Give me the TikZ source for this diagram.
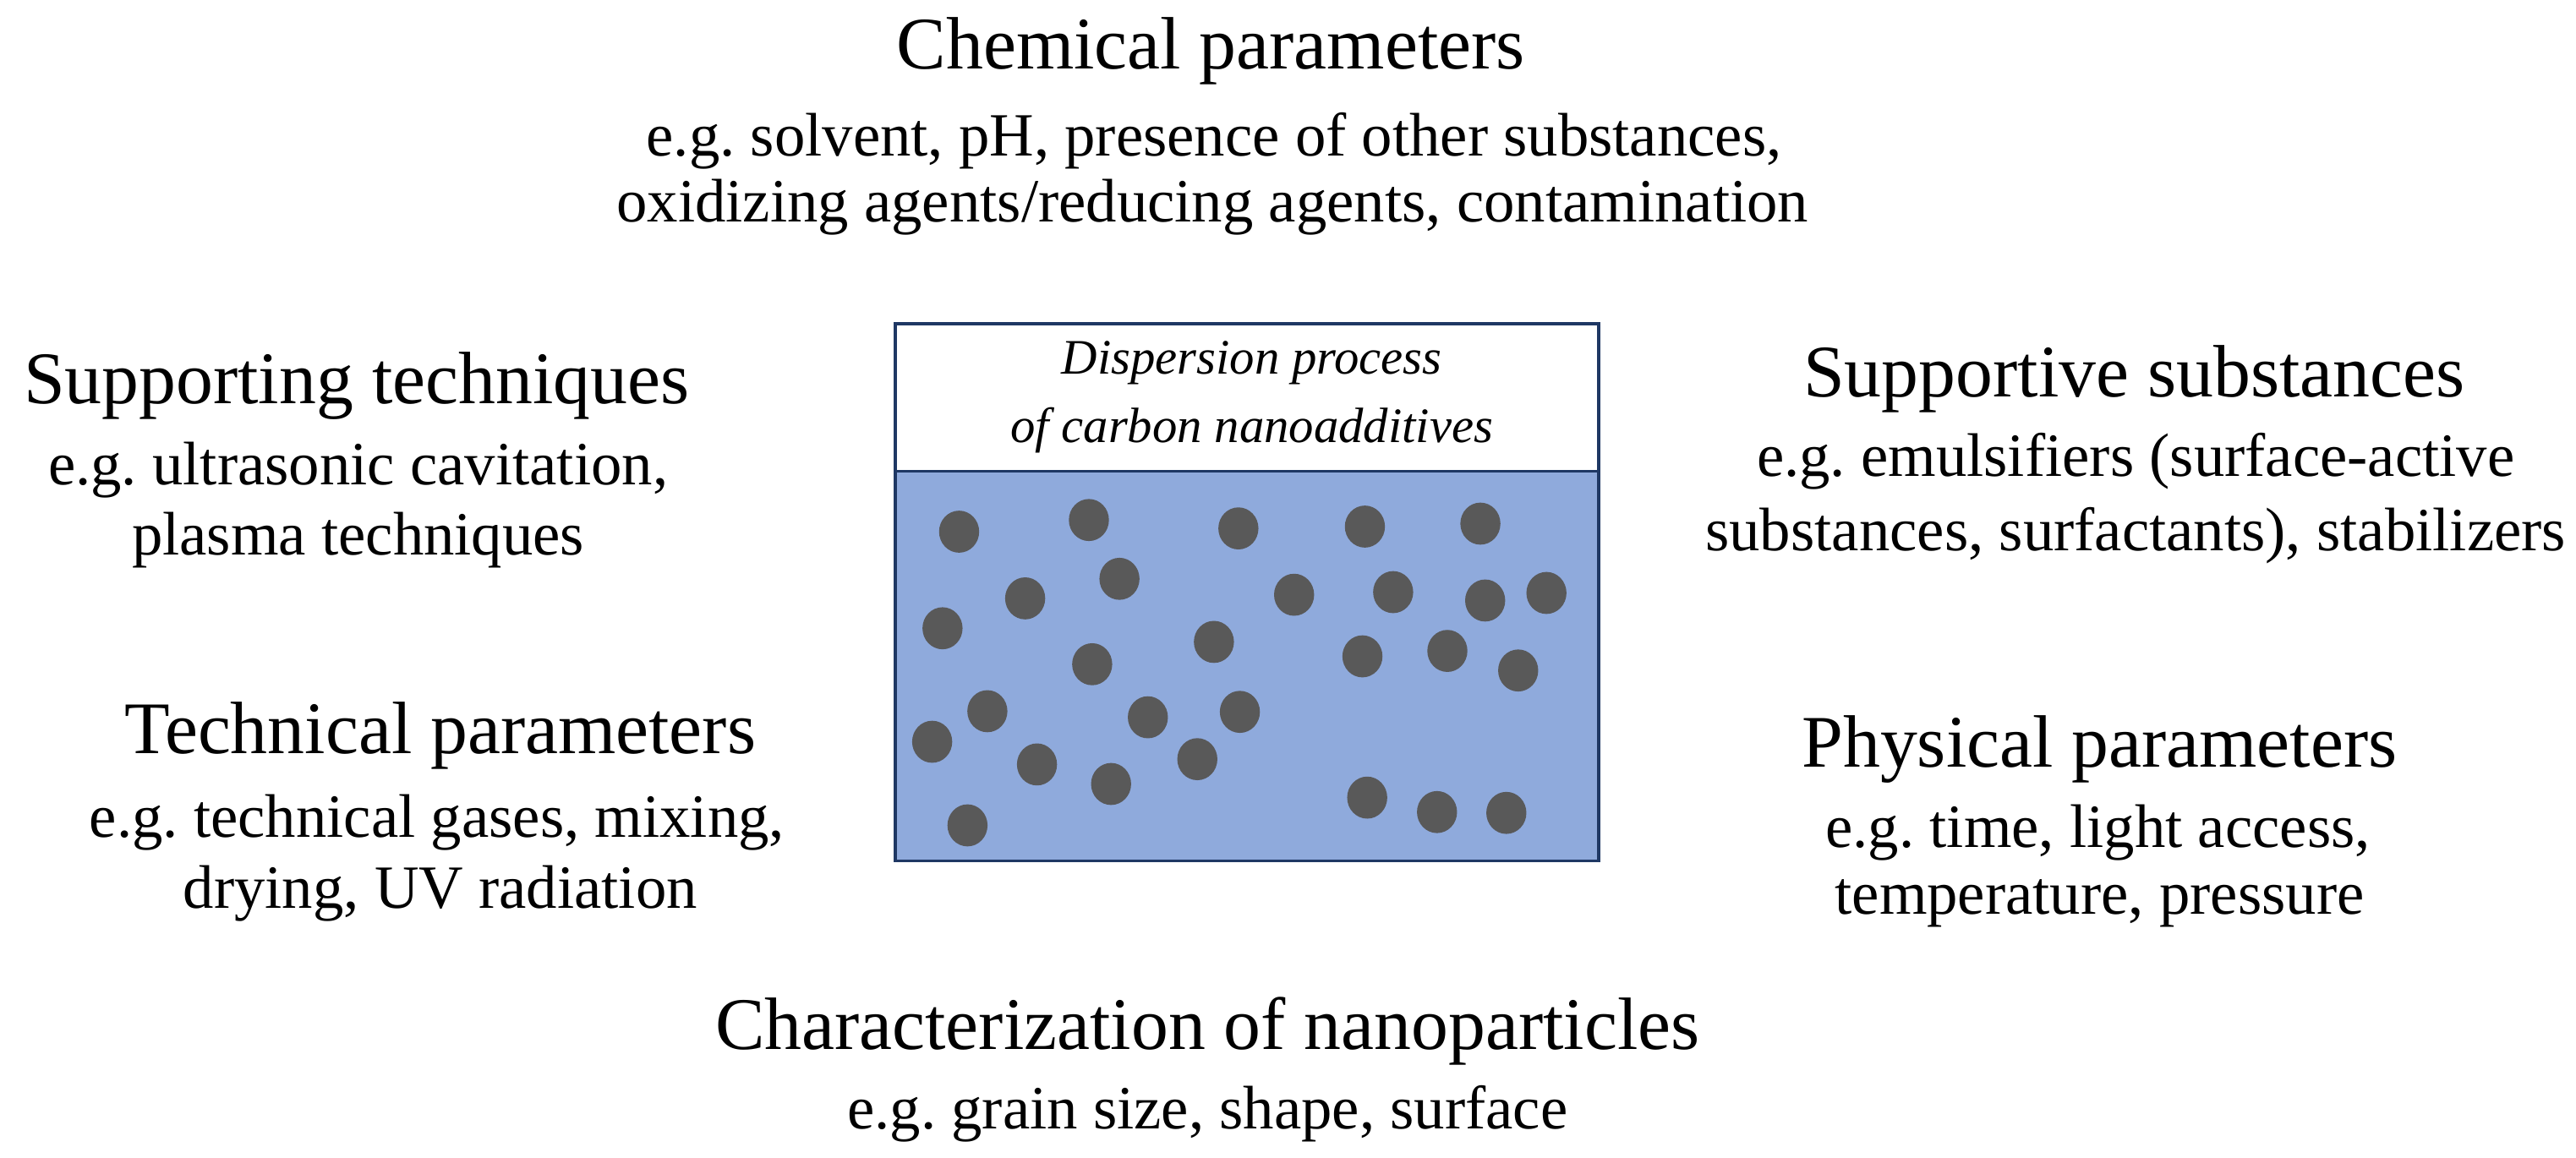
\documentclass[tikz,border=0pt]{standalone}
\usepackage{fontspec}
\setmainfont{Liberation Serif}
\frenchspacing
\definecolor{liq}{HTML}{8FAADC}
\definecolor{frame}{HTML}{1F3864}
\definecolor{dot}{HTML}{595959}
\begin{document}
\begin{tikzpicture}[x=0.02cm,y=-0.02cm,
  head/.style={inner sep=0pt,font=\fontsize{25.7}{30}\selectfont},
  sub/.style={inner sep=0pt,font=\fontsize{21.3}{25}\selectfont},
  boxtxt/.style={inner sep=0pt,font=\fontsize{17.2}{20}\selectfont\itshape},
  particle/.style={fill=dot}]
\useasboundingbox (0,0) rectangle (1568,705);
% container
\path[fill=liq] (545,287) rectangle (973,524);
\draw[frame,line width=1pt] (545,197) rectangle (973,524);
\draw[frame,line width=1pt] (545,287) -- (973,287);
\node[boxtxt] (bx1) at (762,221) {Dispersion process};
\node[boxtxt] (bx2) at (762,262) {of carbon nanoadditives};
% particles
\foreach \px/\py in {583.8/323.7,662.8/316.6,753.8/321.7,830.8/320.6,901.1/318.8,
  681.4/352.4,624/364.3,573.7/382.5,787.7/362.1,848/360.5,904/365.6,941.3/361,
  738.9/390.8,664.8/404.4,829.3/399.6,881/396.3,924.1/408.2,
  601/433,698.7/436.7,754.7/433.4,567.4/451.6,631.2/465.4,676.3/477.3,728.8/462.2,
  832.2/485.6,874.7/494.4,916.9/494.9,588.9/502.5}
  \fill[particle] (\px,\py) circle[x radius=12.2,y radius=12.8];
% texts
\node[head] (chemH) at (737,31) {Chemical parameters};
\node[sub] (chem1) at (739,86) {e.g. solvent, pH, presence of other substances,};
\node[sub] (chem2) at (738,126) {oxidizing agents/reducing agents, contamination};
\node[head] (suptH) at (217,235) {Supporting techniques};
\node[sub] (supt1) at (218,286) {e.g. ultrasonic cavitation,};
\node[sub] (supt2) at (218,329) {plasma techniques};
\node[head] (techH) at (268,448) {Technical parameters};
\node[sub] (tech1) at (266,501) {e.g. technical gases, mixing,};
\node[sub] (tech2) at (268,544) {drying, UV radiation};
\node[head] (subsH) at (1299,231) {Supportive substances};
\node[sub] (subs1) at (1300,281) {e.g. emulsifiers (surface-active};
\node[sub] (subs2) at (1300,326) {substances, surfactants), stabilizers};
\node[head] (physH) at (1278,456) {Physical parameters};
\node[sub] (phys1) at (1277,507) {e.g. time, light access,};
\node[sub] (phys2) at (1278,550) {temperature, pressure};
\node[head] (charH) at (735,628) {Characterization of nanoparticles};
\node[sub] (char1) at (735,678) {e.g. grain size, shape, surface};
\end{tikzpicture}
\end{document}
